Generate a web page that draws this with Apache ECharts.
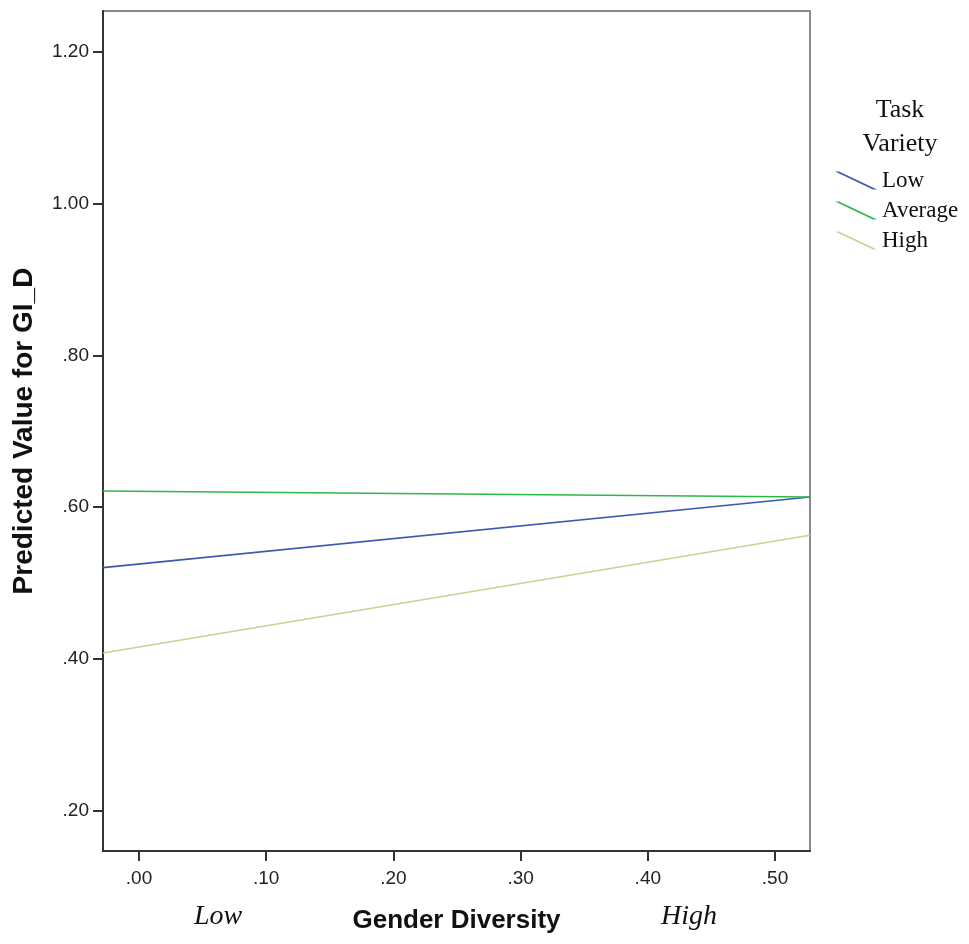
<!DOCTYPE html>
<html>
<head>
<meta charset="utf-8">
<script src="https://cdn.jsdelivr.net/npm/echarts@6/dist/echarts.min.js"></script>
<style>
  html, body { margin: 0; padding: 0; background: #fff; }
  #main { width: 969px; height: 944px; }
</style>
</head>
<body>
<div id="main"></div>
<script>
// x = gender diversity at the two ends of the plot, y = predicted GI_D
var genderDiv = [-0.0283, 0.5275];
var lowTV = [0.5202, 0.6133];
var avgTV = [0.6212, 0.6133];
var highTV = [0.4077, 0.5628];
var groupNames = ['Low', 'Average', 'High'];
var xTicks = [0, 0.1, 0.2, 0.3, 0.4, 0.5];
var yTicks = [0.2, 0.4, 0.6, 0.8, 1.0, 1.2];

var colors = ['#3E58AC', '#2EB848', '#D3CE97'];
var sansFont = '"Liberation Sans", Arial, sans-serif';
var serifFont = '"Liberation Serif", "Times New Roman", serif';

function fmt(v) {
	return v.toFixed(2).replace(/^0/, '');
}

function pairs(ys) {
	var out = [];
	for (var i = 0; i < genderDiv.length; i++) {
		out.push([genderDiv[i], ys[i]]);
	}
	return out;
}

var myChart = echarts.init(document.getElementById('main'));

var seriesList = [lowTV, avgTV, highTV].map(function(ys, i) {
	return {
		name: groupNames[i],
		type: 'line',
		data: pairs(ys),
		showSymbol: false,
		symbol: 'none',
		silent: true,
		lineStyle: { color: colors[i], width: 1.6 },
		itemStyle: { color: colors[i] }
	};
});

var option = {
	animation: false,
	color: colors,
	grid: {
		left: 103,
		right: 159,
		top: 11,
		bottom: 93,
		outerBoundsMode: 'none',
		containLabel: false,
		show: true,
		borderColor: '#8a8a8a',
		borderWidth: 2,
		backgroundColor: 'transparent'
	},
	xAxis: {
		type: 'value',
		min: genderDiv[0],
		max: genderDiv[1],
		name: 'Gender Diversity',
		nameLocation: 'middle',
		nameGap: 57,
		nameTextStyle: { fontFamily: sansFont, fontWeight: 'bold', fontSize: 26, color: '#111' },
		axisLine: { show: true, onZero: false, lineStyle: { color: '#333', width: 2 } },
		axisTick: { show: true, customValues: xTicks, length: 10, lineStyle: { color: '#333', width: 2 } },
		axisLabel: { customValues: xTicks, formatter: fmt, margin: 18, fontFamily: sansFont, fontSize: 19, color: '#222' },
		splitLine: { show: false }
	},
	yAxis: {
		type: 'value',
		min: 0.1466,
		max: 1.254,
		name: 'Predicted Value for GI_D',
		nameLocation: 'middle',
		nameGap: 65,
		nameTextStyle: { fontFamily: sansFont, fontWeight: 'bold', fontSize: 28, color: '#111' },
		axisLine: { show: true, onZero: false, lineStyle: { color: '#333', width: 2 } },
		axisTick: { show: true, customValues: yTicks, length: 10, lineStyle: { color: '#333', width: 2 } },
		axisLabel: { customValues: yTicks, formatter: fmt, margin: 14, fontFamily: sansFont, fontSize: 19, color: '#222' },
		splitLine: { show: false }
	},
	legend: {
		orient: 'vertical',
		left: 835,
		top: 169,
		padding: 0,
		itemWidth: 42,
		itemHeight: 18,
		itemGap: 7,
		icon: 'path://M0,0L4,0L42,18L38,18Z',
		selectedMode: false,
		data: groupNames,
		textStyle: { fontFamily: serifFont, fontSize: 23, color: '#111', padding: [4, 0, 0, 0] }
	},
	graphic: [
		{
			type: 'text',
			x: 900,
			y: 93,
			style: {
				text: 'Task\nVariety',
				align: 'center',
				lineHeight: 34,
				font: '26px ' + serifFont,
				fill: '#111'
			}
		},
		{
			type: 'text',
			x: 218,
			y: 917,
			style: {
				text: 'Low',
				align: 'center',
				verticalAlign: 'middle',
				font: 'italic 28px ' + serifFont,
				fill: '#111'
			}
		},
		{
			type: 'text',
			x: 689,
			y: 917,
			style: {
				text: 'High',
				align: 'center',
				verticalAlign: 'middle',
				font: 'italic 28px ' + serifFont,
				fill: '#111'
			}
		}
	],
	series: seriesList
};
myChart.setOption(option);
</script>
</body>
</html>
